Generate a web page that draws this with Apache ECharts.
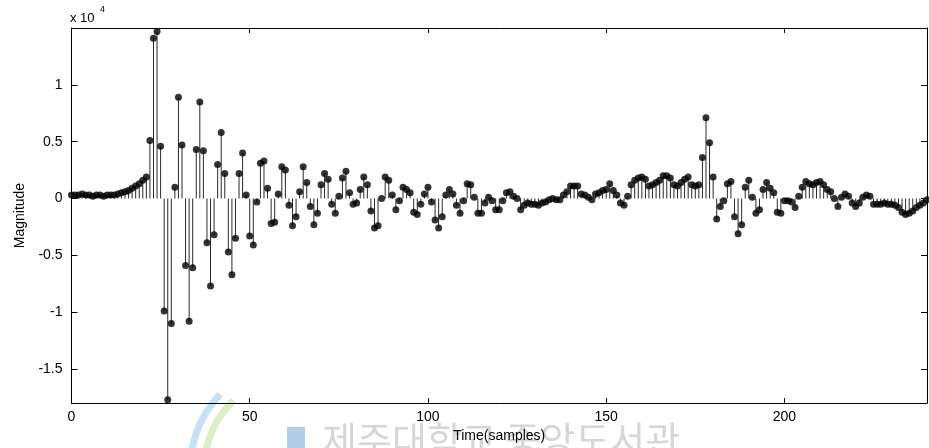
<!DOCTYPE html>
<html>
<head>
<meta charset="utf-8">
<script src="https://cdn.jsdelivr.net/npm/echarts@6/dist/echarts.min.js"></script>
<style>
html,body{margin:0;padding:0;background:#fff;}
#chart{width:929px;height:448px;}
</style>
</head>
<body>
<div id="chart"></div>
<script>
// Magnitude values in units of 10^4, one per sample (sample index = position in array)
const magnitude = [
  0.03,0.03,0.03,0.04,0.03,0.03,0.02,0.03,0.03,0.02,
  0.03,0.03,0.03,0.04,0.05,0.06,0.07,0.09,0.11,0.13,
  0.16,0.19,0.51,1.41,1.47,0.46,-0.99,-1.77,-1.10,0.10,
  0.89,0.47,-0.59,-1.08,-0.61,0.43,0.85,0.42,-0.39,-0.77,
  -0.32,0.30,0.58,0.22,-0.47,-0.67,-0.35,0.22,0.40,0.03,
  -0.33,-0.41,-0.03,0.31,0.33,0.09,-0.22,-0.21,0.04,0.28,
  0.25,-0.06,
  -0.24,-0.16,0.06,0.28,0.14,-0.07,-0.23,-0.13,0.12,0.22,
  0.17,-0.05,-0.13,0.02,0.18,0.24,0.05,-0.05,-0.04,0.08,
  0.19,0.12,-0.11,-0.26,-0.24,0.00,0.19,0.16,0.03,-0.10,
  -0.02,0.10,0.08,0.05,-0.12,-0.14,-0.05,0.04,0.10,-0.03,
  -0.19,-0.26,-0.16,0.03,0.08,0.04,-0.06,-0.13,-0.02,0.13,
  0.12,0.01,-0.13,-0.13,-0.04,0.01,-0.02,-0.10,-0.10,-0.02,
  0.05,0.06,0.02,0.00,-0.10,-0.06,-0.04,-0.05,-0.05,-0.06,
  -0.04,-0.03,-0.01,0.00,-0.01,-0.01,0.03,0.06,0.11,0.11,
  0.11,0.04,0.03,0.01,-0.01,0.04,0.05,0.07,0.08,0.13,
  0.07,0.03,-0.04,-0.06,0.02,0.12,0.16,0.18,0.19,0.17,
  0.11,0.12,0.14,0.16,0.20,0.20,0.18,0.12,0.11,0.14,
  0.17,0.19,0.12,0.11,0.12,0.36,0.71,0.49,0.19,-0.18,
  -0.07,-0.02,0.13,0.15,-0.16,-0.31,-0.23,0.10,0.16,0.01,
  -0.13,-0.10,0.08,0.14,0.09,0.05,-0.12,-0.13,-0.02,-0.02,
  -0.03,-0.08,0.02,0.10,0.15,0.13,0.12,0.14,0.15,0.12,
  0.08,0.06,0.00,-0.07,0.01,0.04,0.02,-0.04,-0.07,-0.04,
  0.01,0.03,0.02,-0.05,-0.05,
  -0.05,-0.04,-0.05,-0.05,-0.06,-0.08,-0.12,-0.14,-0.13,-0.11,
  -0.08,-0.06,-0.04,-0.01
];
const xTicks = [0, 50, 100, 150, 200];
const yTicks = [-1.5, -1, -0.5, 0, 0.5, 1];
const xRange = [0, 240];
const yRange = [-1.8, 1.5];

const points = magnitude.map((v, i) => [i, v]);

const chart = echarts.init(document.getElementById('chart'), null, {renderer: 'canvas'});
const font = 'Liberation Sans, Arial, Helvetica, sans-serif';
const axisCommon = {
  type: 'value',
  splitLine: {show: false},
  axisLine: {show: true, onZero: false, lineStyle: {color: '#000', width: 1}},
};
chart.setOption({
  animation: false,
  backgroundColor: '#fff',
  grid: {left: 71.5, right: 2, top: 28, bottom: 42, containLabel: false},
  xAxis: [
    Object.assign({}, axisCommon, {
      min: xRange[0], max: xRange[1], position: 'bottom',
      axisTick: {show: true, inside: true, length: 5, customValues: xTicks, lineStyle: {color: '#000'}},
      axisLabel: {show: true, customValues: xTicks, color: '#000', fontSize: 14, fontFamily: font, margin: 7},
      name: 'Time(samples)', nameLocation: 'middle', nameGap: 24,
      nameTextStyle: {color: '#000', fontSize: 14, fontFamily: font}
    }),
    Object.assign({}, axisCommon, {
      min: xRange[0], max: xRange[1], position: 'top',
      axisTick: {show: true, inside: true, length: 5, customValues: xTicks, lineStyle: {color: '#000'}},
      axisLabel: {show: false}
    })
  ],
  yAxis: [
    Object.assign({}, axisCommon, {
      min: yRange[0], max: yRange[1], position: 'left',
      axisTick: {show: true, inside: true, length: 6, customValues: yTicks, lineStyle: {color: '#000'}},
      axisLabel: {show: true, customValues: yTicks, color: '#000', fontSize: 14, fontFamily: font, margin: 9},
      name: 'Magnitude', nameLocation: 'middle', nameGap: 40, nameRotate: 90,
      nameTextStyle: {color: '#000', fontSize: 14, fontFamily: font}
    }),
    Object.assign({}, axisCommon, {
      min: yRange[0], max: yRange[1], position: 'right',
      axisTick: {show: true, inside: true, length: 6, customValues: yTicks, lineStyle: {color: '#000'}},
      axisLabel: {show: false}
    })
  ],
  graphic: [
    {type: 'arc', z: -10, silent: true,
     shape: {cx: 300, cy: 470, r: 110, startAngle: 3.32, endAngle: 3.90, clockwise: true},
     style: {stroke: '#c4e2f3', lineWidth: 7, fill: null}},
    {type: 'arc', z: -10, silent: true,
     shape: {cx: 300, cy: 470, r: 96, startAngle: 3.32, endAngle: 3.95, clockwise: true},
     style: {stroke: '#dcefc4', lineWidth: 7, fill: null}},
    {type: 'rect', z: -10, silent: true,
     shape: {x: 287, y: 427, width: 18, height: 25},
     style: {fill: '#b3cde6'}},
    {type: 'text', z: -10, silent: true, x: 322, y: 421,
     style: {text: '제주대학교 중앙도서관', fontSize: 38, fontFamily: 'Noto Sans CJK KR',
             fill: '#d6d6d6', verticalAlign: 'top', align: 'left'}},
    {type: 'text', x: 70, y: 12,
     style: {text: 'x 10', fontSize: 13, fontFamily: font, fill: '#000', verticalAlign: 'top'}},
    {type: 'text', x: 100, y: 5,
     style: {text: '4', fontSize: 9, fontFamily: font, fill: '#000', verticalAlign: 'top'}}
  ],
  series: [
    {
      type: 'custom', xAxisIndex: 0, yAxisIndex: 0, data: points, z: 2,
      renderItem: function (params, api) {
        const x = api.value(0), y = api.value(1);
        const p0 = api.coord([x, 0]);
        const p1 = api.coord([x, y]);
        return {type: 'line', shape: {x1: p0[0], y1: p0[1], x2: p1[0], y2: p1[1]},
                style: {stroke: '#2a2a2a', lineWidth: 1}};
      }
    },
    {
      type: 'scatter', xAxisIndex: 0, yAxisIndex: 0, data: points, z: 3,
      symbol: 'circle', symbolSize: 7,
      itemStyle: {color: '#000'}
    }
  ]
});
</script>
</body>
</html>
